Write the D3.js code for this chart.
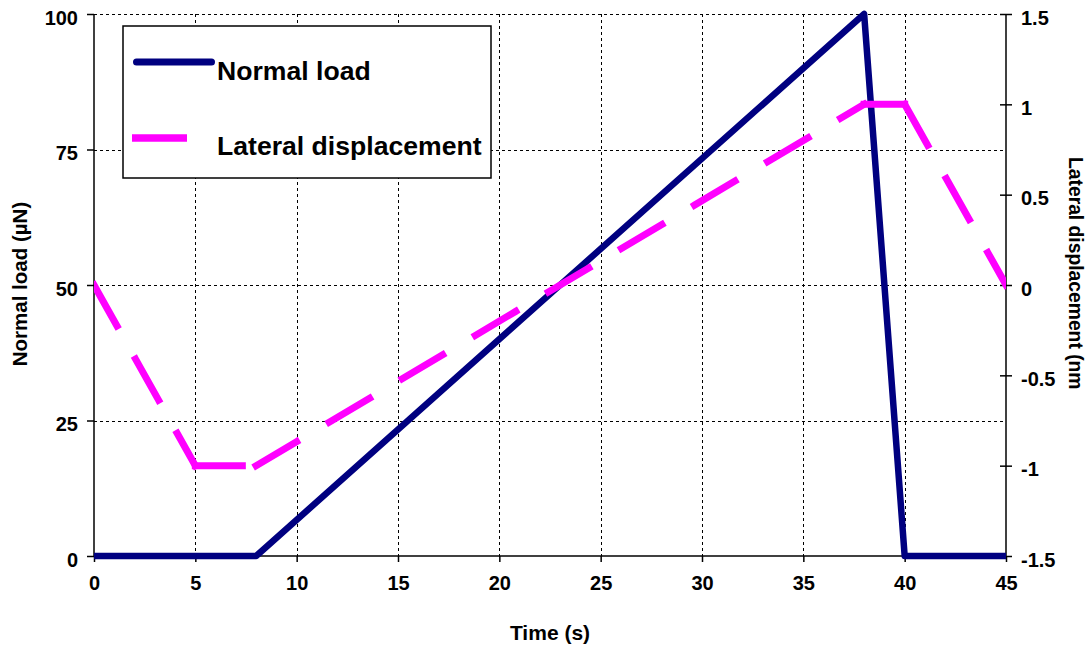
<!DOCTYPE html>
<html>
<head>
<meta charset="utf-8">
<script src="https://cdn.jsdelivr.net/npm/d3@7"></script>
<style>
  html, body { margin: 0; padding: 0; background: #fff; }
  svg { display: block; }
  text { font-family: "Liberation Sans", Arial, sans-serif; font-weight: bold; fill: #000; }
</style>
</head>
<body>
<svg id="chart" width="1089" height="648"></svg>
<script>
// ---- data ----
const loadTime = [0, 8, 38, 40, 45];
const normalLoad = [0, 0, 100, 0, 0];            // µN
const dispTime = [0, 5, 8, 38, 40, 45];
const lateralDisp = [0, -1, -1, 1, 1, 0];       // nm
const xTicks = [0, 5, 10, 15, 20, 25, 30, 35, 40, 45];
const yLeftTicks = [0, 25, 50, 75, 100];
const yRightTicks = [-1.5, -1, -0.5, 0, 0.5, 1, 1.5];
const seriesNames = ["Normal load", "Lateral displacement"];
const axisTitles = { x: "Time (s)", yLeft: "Normal load (µN)", yRight: "Lateral displacement (nm)" };

// ---- layout ----
const L = 94, R = 1006, T = 14, B = 556;
const navy = "#000080", pink = "#ff00ff";
const svg = d3.select("#chart");

const x = d3.scaleLinear().domain([0, 45]).range([L, R]);
const yL = d3.scaleLinear().domain([0, 100]).range([B, T]);
const yR = d3.scaleLinear().domain([-1.5, 1.5]).range([B, T]);

const defs = svg.append("defs");
defs.append("clipPath").attr("id", "plotclip")
  .append("rect").attr("x", L).attr("y", T - 4).attr("width", R - L).attr("height", B - T + 8);
defs.append("clipPath").attr("id", "rtitleclip")
  .append("rect").attr("x", 1040).attr("y", 0).attr("width", 60).attr("height", 389);

// ---- gridlines ----
const grid = svg.append("g").attr("stroke", "#000").attr("stroke-width", 1).attr("stroke-dasharray", "3,3");
grid.selectAll("line.v").data(xTicks.filter(d => d > 0 && d < 45)).join("line")
  .attr("x1", d => Math.round(x(d)) + 0.5).attr("x2", d => Math.round(x(d)) + 0.5)
  .attr("y1", T).attr("y2", B);
grid.selectAll("line.h").data(yLeftTicks.filter(d => d > 0)).join("line")
  .attr("y1", d => Math.round(yL(d)) + 0.5).attr("y2", d => Math.round(yL(d)) + 0.5)
  .attr("x1", L).attr("x2", R);

// ---- axes ----
const fmt = d => String(d);
const axL = svg.append("g").attr("transform", `translate(${L},0)`)
  .call(d3.axisLeft(yL).tickValues(yLeftTicks).tickSize(7).tickPadding(9).tickFormat(fmt));
const axB = svg.append("g").attr("transform", `translate(0,${B})`)
  .call(d3.axisBottom(x).tickValues(xTicks).tickSize(6).tickPadding(14).tickFormat(fmt));
const axR = svg.append("g").attr("transform", `translate(${R},0)`)
  .call(d3.axisRight(yR).tickValues(yRightTicks).tickSize(6).tickPadding(9).tickFormat(fmt));
[axL, axB, axR].forEach(a => {
  a.selectAll(".tick line").attr("stroke", "#000").attr("stroke-width", 1.5);
  a.selectAll(".tick text").style("font-size", "20px").attr("fill", "#000");
});
axL.selectAll(".tick text").attr("dy", "0.5em");
axR.selectAll(".tick text").attr("dy", "0.5em");
axR.selectAll(".tick line").attr("x1", -6);
axB.selectAll(".tick text").attr("dy", "0.71em");
[axL, axB, axR].forEach(a => a.select(".domain").remove());
svg.append("line").attr("x1", L).attr("x2", L).attr("y1", T).attr("y2", B + 0.75).attr("stroke", "#000").attr("stroke-width", 1.5);
svg.append("line").attr("x1", R).attr("x2", R).attr("y1", T).attr("y2", B + 0.75).attr("stroke", "#000").attr("stroke-width", 1.5);
svg.append("line").attr("x1", L).attr("x2", R).attr("y1", B).attr("y2", B).attr("stroke", "#000").attr("stroke-width", 1.5);

// ---- series ----
const plot = svg.append("g").attr("clip-path", "url(#plotclip)");
const loadPts = loadTime.map((t, i) => [t, normalLoad[i]]);
plot.append("path").datum(loadPts)
  .attr("d", d3.line().x(d => x(d[0])).y(d => yL(d[1])))
  .attr("fill", "none").attr("stroke", navy).attr("stroke-width", 6.5)
  .attr("stroke-linejoin", "round").attr("stroke-linecap", "round");

const dispPts = dispTime.map((t, i) => [t, lateralDisp[i]]);
const segs = d3.pairs(dispPts);
const rLine = d3.line().x(d => x(d[0])).y(d => yR(d[1]));
plot.selectAll("path.seg").data(segs).join("path").attr("class", "seg")
  .attr("d", d => rLine(d))
  .attr("fill", "none").attr("stroke", pink).attr("stroke-width", 7)
  .attr("stroke-dasharray", "47,38").attr("stroke-linecap", "square");

// ---- legend ----
const lg = svg.append("g");
lg.append("rect").attr("x", 123).attr("y", 26).attr("width", 368).attr("height", 152)
  .attr("fill", "#fff").attr("stroke", "#000").attr("stroke-width", 1.5);
lg.append("line").attr("x1", 136.5).attr("x2", 211.5).attr("y1", 62).attr("y2", 62)
  .attr("stroke", navy).attr("stroke-width", 7).attr("stroke-linecap", "round");
lg.append("line").attr("x1", 132).attr("x2", 187).attr("y1", 138).attr("y2", 138)
  .attr("stroke", pink).attr("stroke-width", 7.5);
lg.selectAll("text").data(seriesNames).join("text")
  .attr("x", 217).attr("y", (d, i) => i === 0 ? 80 : 155)
  .style("font-size", "26.6px").text(d => d);

// ---- axis titles ----
svg.append("text").attr("x", (L + R) / 2).attr("y", 640).attr("text-anchor", "middle")
  .style("font-size", "21px").text(axisTitles.x);
svg.append("text").attr("transform", `translate(27,284) rotate(-90)`)
  .attr("text-anchor", "middle").style("font-size", "20.5px").text(axisTitles.yLeft);
svg.append("g").attr("clip-path", "url(#rtitleclip)")
  .append("text").attr("transform", `translate(1069,157) rotate(90)`)
  .attr("text-anchor", "start").style("font-size", "19.3px").text(axisTitles.yRight);
</script>
</body>
</html>
